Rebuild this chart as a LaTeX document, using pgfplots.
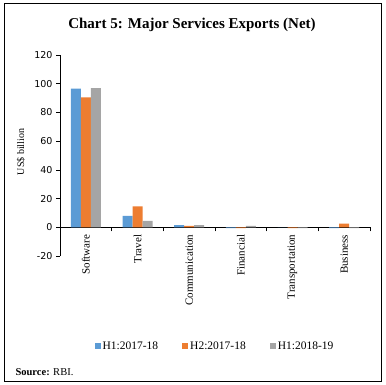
\documentclass[border=0pt]{standalone}
\usepackage{pgfplots}
\pgfplotsset{compat=1.18}
\usepackage{fontspec}
\setmainfont{Liberation Serif}
\newfontfamily\tickfont{DejaVu Sans}
\definecolor{cblue}{HTML}{5B9BD5}
\definecolor{corange}{HTML}{ED7D31}
\definecolor{cgray}{HTML}{A5A5A5}
\begin{document}
\begin{tikzpicture}[x=1pt,y=1pt]
\path (0,0) rectangle (386,-385);
\draw[line width=0.9pt] (4,-3) rectangle (381,-381);
\node[font=\bfseries\fontsize{15}{17}\selectfont] at (192,-25) {Chart 5: Major Services Exports (Net)};
\node[rotate=90,font=\fontsize{10}{12}\selectfont] at (21,-152) {US\$ billion};
\node[anchor=west,font=\fontsize{10.5}{12}\selectfont] at (12,-372) {\textbf{Source:} RBI.};
\begin{axis}[
  at={(60pt,-256pt)}, anchor=south west,
  width=310pt, height=201pt, scale only axis,
  ymin=-20, ymax=120, ytick={-20,0,20,40,60,80,100,120},
  xmin=-0.5, xmax=5.5,
  axis y line=left, axis x line=middle,
  axis line style={-, black, line width=0.6pt},
  hide obscured x ticks=false, hide obscured y ticks=false,
  xtick={-0.5,0.5,1.5,2.5,3.5,4.5,5.5},
  x tick label as interval,
  xticklabels={Software,Travel,Communication,Financial,Transportation,Business},
  xticklabel style={rotate=90, anchor=east, font=\fontsize{11}{12}\selectfont},
  yticklabel style={font=\tickfont\fontsize{9.5}{11}\selectfont},
  /pgf/number format/assume math mode=true,
  tick align=outside, major tick length=4pt,
  tick style={black, line width=0.6pt},
  ybar=0pt, bar width=10pt,
  legend columns=3,
  legend style={at={(0.5,-0.448)}, anchor=center, draw=none,
    font=\fontsize{11.5}{13}\selectfont,
    /tikz/every even column/.append style={column sep=22pt}},
]
\addplot[fill=cblue, draw=none, legend image code/.code={\fill[cblue] (0pt,-3pt) rectangle (6pt,3pt);}] coordinates {(0,96.5) (1,8) (2,1.5) (3,-0.5) (4,0) (5,-0.5)};
\addplot[fill=corange, draw=none, legend image code/.code={\fill[corange] (0pt,-3pt) rectangle (6pt,3pt);}] coordinates {(0,90.5) (1,14.5) (2,1) (3,-0.6) (4,-0.5) (5,2.5)};
\addplot[fill=cgray, draw=none, legend image code/.code={\fill[cgray] (0pt,-3pt) rectangle (6pt,3pt);}] coordinates {(0,97) (1,4.5) (2,1.5) (3,1) (4,-0.6) (5,-0.5)};
\legend{H1:2017-18,H2:2017-18,H1:2018-19}
\end{axis}
\end{tikzpicture}
\end{document}
